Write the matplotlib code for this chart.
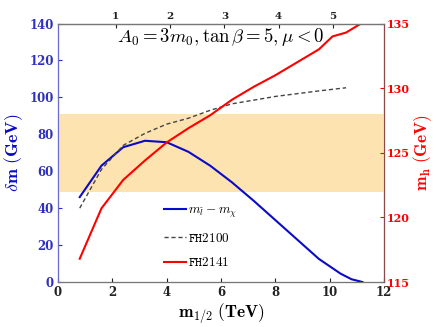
import numpy as np
import matplotlib
matplotlib.use("Agg")
import matplotlib.pyplot as plt

plt.rcParams['mathtext.fontset'] = 'cm'
plt.rcParams['font.family'] = 'DejaVu Serif'

# blue curve: slepton - neutralino mass gap (left axis)
m12_dm = [0.8, 1.6, 2.4, 3.2, 4.0, 4.8, 5.6, 6.4, 7.2, 8.0, 8.8, 9.6, 10.4, 10.8, 11.2]
dm = [46, 63, 73, 76.5, 75.7, 70.5, 63, 54, 44, 33.5, 23, 12.5, 4.5, 1.5, 0]

# FH2100 dashed curve (left axis scale)
m12_fh0 = [0.8, 1.6, 2.4, 3.2, 4.0, 4.8, 5.6, 6.4, 7.2, 8.0, 8.8, 9.6, 10.6]
fh2100 = [40, 61, 74, 80.5, 85.5, 88.7, 93, 96.5, 98.5, 100.5, 102, 103.5, 105.2]

# FH2141 Higgs mass (right axis)
m12_fh1 = [0.8, 1.6, 2.4, 3.2, 4.0, 4.8, 5.6, 6.4, 7.2, 8.0, 8.8, 9.6, 10.1, 10.6, 11.15]
fh2141 = [116.8, 120.7, 122.9, 124.4, 125.8, 126.9, 127.9, 129.1, 130.1, 131.0, 132.0, 133.0, 134.0, 134.3, 135.0]

# allowed Higgs mass band
mh_band = [122, 128]

# tick labels
x_ticks = [0, 2, 4, 6, 8, 10, 12]
y_ticks = [0, 20, 40, 60, 80, 100, 120, 140]
mh_ticks = [115, 120, 125, 130, 135]
top_ticks = [1, 2, 3, 4, 5]

blue = '#0a0ac8'
red = '#ff0000'

fig = plt.figure(figsize=(4.36, 3.27), dpi=100)
ax = fig.add_axes([0.133, 0.1376, 0.748, 0.7905])
ax2 = ax.twinx()

ax.set_xlim(0, 12)
ax.set_ylim(0, 140)
ax2.set_ylim(115, 135)

ax2.axhspan(mh_band[0], mh_band[1], color='#fde3b0', lw=0, zorder=0)

# draw blue/dashed on ax2 scale so they sit above the band
to_right = lambda v: 115 + np.asarray(v) * 20.0 / 140.0
l1, = ax2.plot(m12_dm, to_right(dm), color=blue, lw=1.5, label=r'$m_{\tilde{l}} - m_{\chi}$')
l2, = ax2.plot(m12_fh0, to_right(fh2100), color='#444444', lw=1.0, ls=(0, (3, 2)),
               label=r'$\mathtt{FH2100}$')
l3, = ax2.plot(m12_fh1, fh2141, color=red, lw=1.5, label=r'$\mathtt{FH2141}$')

tkw = dict(fontweight='bold', fontsize=8.5)
ax.set_xticks(x_ticks)
ax.set_xticklabels([str(t) for t in x_ticks], **tkw)
ax.set_yticks(y_ticks)
ax.set_yticklabels([str(t) for t in y_ticks], **tkw)
ax2.set_yticks(mh_ticks)
ax2.set_yticklabels([str(t) for t in mh_ticks], fontweight='bold', fontsize=8)

ax.tick_params(axis='x', direction='in', length=3, pad=3, colors='#222222')
ax.tick_params(axis='y', direction='in', length=3, colors='#3030c0', pad=3)
ax2.tick_params(axis='y', direction='in', length=3, colors=red, pad=2)

top = ax.secondary_xaxis('top', functions=(lambda x: (x - 0.12) / 2.0, lambda v: 2.0 * v + 0.12))
top.set_xticks(top_ticks)
top.set_xticklabels([str(t) for t in top_ticks], fontweight='bold', fontsize=7.5)
top.tick_params(direction='in', length=3, pad=2, colors='#222222')

for s in ('top', 'bottom'):
    ax2.spines[s].set_color('#777777')
ax2.spines['left'].set_color('#6a6ad0')
ax2.spines['right'].set_color('#8a4a4a')
top.spines['top'].set_color('#777777')

ax.set_ylabel(r'$\delta\mathbf{m\ (GeV)}$', color=blue, fontsize=13, labelpad=3)
ax2.set_ylabel(r'$\mathbf{m_h\ (GeV)}$', color=red, fontsize=12.5, labelpad=1)
ax.set_xlabel(r'$\mathbf{m_{1/2}\ (TeV)}$', fontsize=12.5, labelpad=2)

ax2.text(0.5, 0.99, r'$A_0 = 3m_0, \tan\beta = 5, \mu < 0$', transform=ax.transAxes,
         ha='center', va='top', fontsize=13.5)

ax2.legend(handles=[l1, l2, l3], loc='upper left', bbox_to_anchor=(0.29, 0.35),
           frameon=False, fontsize=9.5, handlelength=1.6, handletextpad=0.15,
           labelspacing=0.9)

fig.savefig('out.png', dpi=100)
